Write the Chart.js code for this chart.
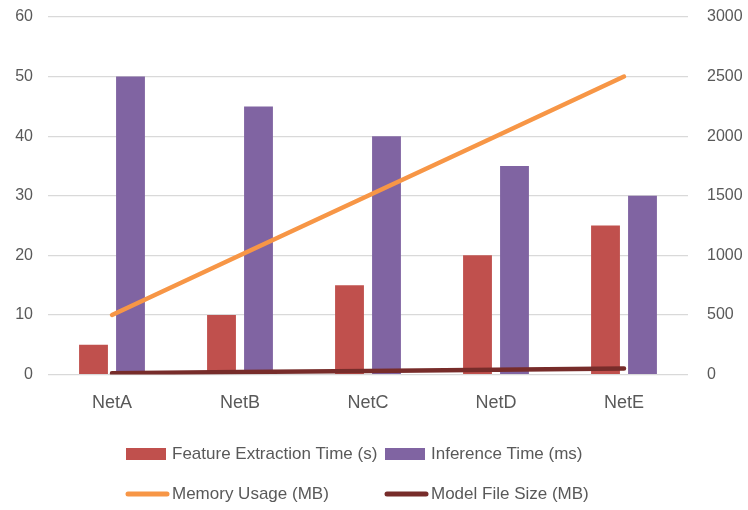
<!DOCTYPE html>
<html>
<head>
<meta charset="utf-8">
<title>Model comparison</title>
<script src="https://cdn.jsdelivr.net/npm/chart.js@4.4.1/dist/chart.umd.min.js"></script>
<style>
  html, body { margin: 0; padding: 0; background: #fff; }
  #wrap { width: 748px; height: 510px; position: relative; }
</style>
</head>
<body>
<div id="wrap"><canvas id="chart"></canvas></div>
<script>
const models = ['NetA', 'NetB', 'NetC', 'NetD', 'NetE'];
const featureTime = [5, 10, 15, 20, 25];          // s
const inferenceTime = [50, 45, 40, 35, 30];       // ms
const memoryUsage = [500, 1000, 1500, 2000, 2500]; // MB
const modelSize = [10, 20, 30, 40, 50];           // MB

const leftTicks = { min: 0, max: 60, step: 10 };
const rightTicks = { min: 0, max: 3000, step: 500 };

const textColor = '#595959';
const fontFamily = '"Liberation Sans", Arial, sans-serif';
Chart.defaults.font.family = fontFamily;
Chart.defaults.color = textColor;

// Excel-style legend: two columns, swatch + label, drawn under the axis
const legendGrid = { cols: [126, 385], rows: [454, 494] };
const gridLegend = {
    id: 'gridLegend',
    afterDraw(chart) {
        const ctx = chart.ctx;
        ctx.save();
        ctx.font = '17px ' + fontFamily;
        ctx.textBaseline = 'middle';
        chart.data.datasets.forEach((ds, i) => {
            const x = legendGrid.cols[i % 2];
            const y = legendGrid.rows[Math.floor(i / 2)];
            if (ds.type === 'line') {
                ctx.strokeStyle = ds.borderColor;
                ctx.lineWidth = 5;
                ctx.lineCap = 'round';
                ctx.beginPath();
                ctx.moveTo(x + 2, y);
                ctx.lineTo(x + 41, y);
                ctx.stroke();
            } else {
                ctx.fillStyle = ds.backgroundColor;
                ctx.fillRect(x, y - 6, 40, 12);
            }
            ctx.fillStyle = textColor;
            ctx.fillText(ds.label, x + 46, y);
        });
        ctx.restore();
    }
};

// fixed axis sizes so the plot area lines up with the legend columns
const fixWidth = w => scale => {
    scale.width = w;
    scale.paddingTop = 0;
    scale.paddingBottom = 0;
};

new Chart(document.getElementById('chart'), {
    data: {
        labels: models,
        datasets: [
            {
                type: 'bar',
                label: 'Feature Extraction Time (s)',
                data: featureTime,
                backgroundColor: '#C0504D',
                yAxisID: 'y',
                order: 2
            },
            {
                type: 'bar',
                label: 'Inference Time (ms)',
                data: inferenceTime,
                backgroundColor: '#8064A2',
                yAxisID: 'y',
                order: 2
            },
            {
                type: 'line',
                label: 'Memory Usage (MB)',
                data: memoryUsage,
                borderColor: '#F79646',
                backgroundColor: '#F79646',
                borderWidth: 4.5,
                borderCapStyle: 'round',
                pointRadius: 0,
                tension: 0,
                yAxisID: 'y1',
                order: 1
            },
            {
                type: 'line',
                label: 'Model File Size (MB)',
                data: modelSize,
                borderColor: '#772C2A',
                backgroundColor: '#772C2A',
                borderWidth: 4.5,
                borderCapStyle: 'round',
                pointRadius: 0,
                tension: 0,
                yAxisID: 'y1',
                order: 0
            }
        ]
    },
    options: {
        responsive: true,
        maintainAspectRatio: false,
        animation: false,
        datasets: {
            bar: { categoryPercentage: 0.578, barPercentage: 0.78 }
        },
        layout: { padding: { top: 17, left: 15, right: 5, bottom: 97 } },
        scales: {
            x: {
                grid: { display: false, drawTicks: false },
                border: { display: false },
                ticks: { padding: 18, font: { size: 18 } },
                afterFit: scale => { scale.height = 38.5; }
            },
            y: {
                position: 'left',
                min: leftTicks.min,
                max: leftTicks.max,
                grid: { color: '#d9d9d9', lineWidth: 1.2, drawTicks: false },
                border: { display: false },
                ticks: { stepSize: leftTicks.step, padding: 15, font: { size: 16 } },
                afterFit: fixWidth(33)
            },
            y1: {
                position: 'right',
                min: rightTicks.min,
                max: rightTicks.max,
                grid: { display: false, drawTicks: false },
                border: { display: false },
                ticks: {
                    stepSize: rightTicks.step,
                    padding: 19,
                    font: { size: 16 },
                    callback: value => String(value)
                },
                afterFit: fixWidth(55)
            }
        },
        plugins: {
            legend: { display: false },
            tooltip: { enabled: false }
        }
    },
    plugins: [gridLegend]
});
</script>
</body>
</html>
